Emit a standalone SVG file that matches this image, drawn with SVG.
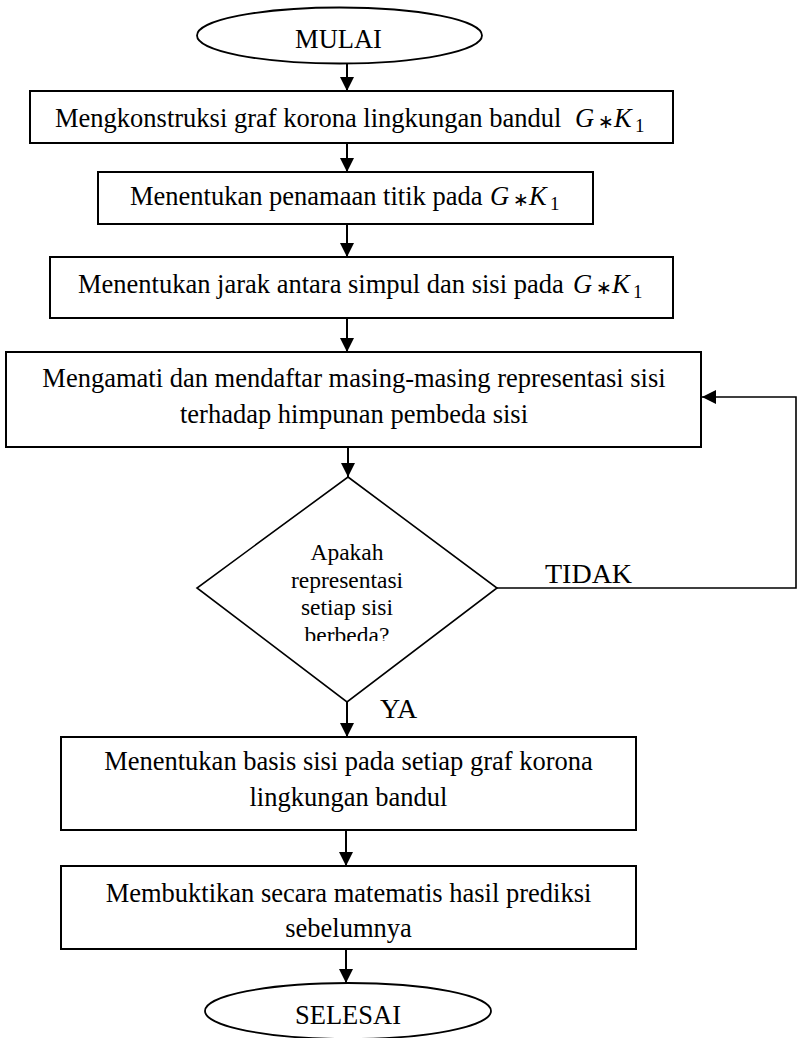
<svg xmlns="http://www.w3.org/2000/svg" width="797" height="1038" viewBox="0 0 797 1038">
<style>
.bg{fill:#ffffff}
.box{fill:#ffffff;stroke:#000000;stroke-width:2}
.term{fill:#ffffff;stroke:#000000;stroke-width:1.8}
.dec{fill:#ffffff;stroke:#000000;stroke-width:1.6}
.t{font-family:"Liberation Serif","Times New Roman",serif;font-size:26.5px;fill:#000000}
.m{font-family:"Liberation Serif","Times New Roman",serif;font-size:26.5px;font-style:italic;fill:#000000}
.op{font-family:"DejaVu Sans","Liberation Sans",sans-serif;font-size:19px;fill:#000000}
.sub{font-family:"Liberation Serif","Times New Roman",serif;font-size:19px;fill:#000000}
.d{font-family:"Liberation Serif","Times New Roman",serif;font-size:23.5px;fill:#000000;text-anchor:middle}
.lbl{font-family:"Liberation Serif","Times New Roman",serif;font-size:28px;fill:#000000}
.c{text-anchor:middle}
.conn{fill:none;stroke:#000000;stroke-width:2}
.fb{fill:none;stroke:#000000;stroke-width:1.6}
</style>
<defs>
<marker id="ah" markerUnits="userSpaceOnUse" markerWidth="16" markerHeight="16" viewBox="0 0 16 16" refX="14" refY="8" orient="auto">
<path d="M0,1 L14,8 L0,15 Z" fill="#000000"/>
</marker>
<clipPath id="dclip"><rect x="190" y="470" width="320" height="171"/></clipPath>
</defs>
<rect class="bg" x="0" y="0" width="797" height="1038"/>

<g id="connectors">
<line class="conn" x1="347" y1="63" x2="347" y2="91" marker-end="url(#ah)"/>
<line class="conn" x1="347" y1="143" x2="347" y2="172" marker-end="url(#ah)"/>
<line class="conn" x1="347" y1="224" x2="347" y2="257" marker-end="url(#ah)"/>
<line class="conn" x1="347" y1="318" x2="347" y2="352" marker-end="url(#ah)"/>
<line class="conn" x1="348" y1="447" x2="348" y2="477" marker-end="url(#ah)"/>
<line class="conn" x1="347" y1="702" x2="347" y2="737" marker-end="url(#ah)"/>
<line class="conn" x1="346" y1="830" x2="346" y2="866" marker-end="url(#ah)"/>
<line class="conn" x1="346" y1="949" x2="346" y2="983" marker-end="url(#ah)"/>
<polyline class="fb" points="497,588 796,588 796,397 702,397" marker-end="url(#ah)"/>
<text class="lbl" x="545" y="583">TIDAK</text>
<text class="lbl" x="380" y="718">YA</text>
</g>

<g id="start">
<ellipse class="term" cx="339.5" cy="35.5" rx="142.5" ry="28"/>
<text class="t c" x="338.5" y="48">MULAI</text>
</g>

<g id="step1">
<rect class="box" x="30" y="91" width="643" height="52"/>
<text class="t" x="55" y="127">Mengkonstruksi graf korona lingkungan bandul</text>
<text class="m" x="575" y="127">G</text>
<text class="op" x="598" y="128">∗</text>
<text class="m" x="614" y="127">K</text>
<text class="sub" x="635" y="132">1</text>
</g>

<g id="step2">
<rect class="box" x="98" y="172" width="495" height="52"/>
<text class="t" x="130" y="205">Menentukan penamaan titik pada</text>
<text class="m" x="490" y="205">G</text>
<text class="op" x="513" y="206">∗</text>
<text class="m" x="529" y="205">K</text>
<text class="sub" x="550" y="210">1</text>
</g>

<g id="step3">
<rect class="box" x="50" y="257" width="623" height="61"/>
<text class="t" x="78" y="293">Menentukan jarak antara simpul dan sisi pada</text>
<text class="m" x="573" y="293">G</text>
<text class="op" x="596" y="294">∗</text>
<text class="m" x="612" y="293">K</text>
<text class="sub" x="633" y="298">1</text>
</g>

<g id="step4">
<rect class="box" x="6" y="352" width="695" height="95"/>
<text class="t c" x="354" y="387">Mengamati dan mendaftar masing-masing representasi sisi</text>
<text class="t c" x="354" y="423">terhadap himpunan pembeda sisi</text>
</g>

<g id="decision">
<polygon class="dec" points="348,477 497,588 347,702 197,588"/>
<g clip-path="url(#dclip)">
<text class="d" x="347" y="560">Apakah</text>
<text class="d" x="347" y="588">representasi</text>
<text class="d" x="347" y="615">setiap sisi</text>
<text class="d" x="347" y="643">berbeda?</text>
</g>
</g>

<g id="step5">
<rect class="box" x="61" y="737" width="575" height="93"/>
<text class="t c" x="348.5" y="770">Menentukan basis sisi pada setiap graf korona</text>
<text class="t c" x="348.5" y="806">lingkungan bandul</text>
</g>

<g id="step6">
<rect class="box" x="61" y="866" width="575" height="83"/>
<text class="t c" x="348.5" y="902">Membuktikan secara matematis hasil prediksi</text>
<text class="t c" x="348.5" y="937">sebelumnya</text>
</g>

<g id="end">
<ellipse class="term" cx="348" cy="1011" rx="143" ry="28"/>
<text class="t c" x="348" y="1024">SELESAI</text>
</g>
</svg>
